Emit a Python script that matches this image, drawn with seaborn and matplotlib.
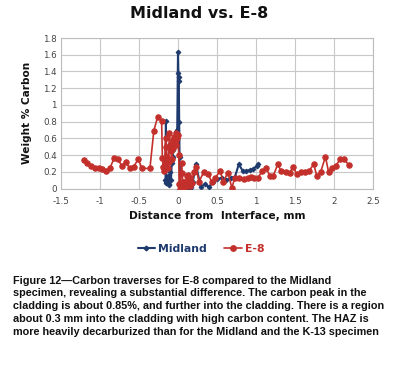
import matplotlib
matplotlib.use("Agg")
import matplotlib.pyplot as plt
import seaborn as sns
import pandas as pd
from matplotlib.lines import Line2D

# ---- data ----
midland_x = [-0.17, -0.16, -0.155, -0.15, -0.14, -0.13, -0.12, -0.11, -0.10, -0.09,
             -0.08, -0.07, -0.06, -0.05, -0.04, -0.03, -0.02, -0.01, 0.0, 0.005,
             0.008, 0.011, 0.015, 0.02, 0.03, 0.05, 0.07, 0.09, 0.11, 0.13,
             0.15, 0.17, 0.19, 0.23, 0.29, 0.34, 0.40, 0.45, 0.50, 0.56,
             0.62, 0.68, 0.73, 0.78, 0.83, 0.87, 0.92, 0.96, 1.01, 1.03]
midland_y = [0.10, 0.07, 0.81, 0.10, 0.06, 0.15, 0.04, 0.05, 0.20, 0.10,
             0.30, 0.38, 0.46, 0.52, 0.58, 0.62, 0.68, 0.70, 1.63, 1.38,
             1.33, 1.28, 0.80, 0.38, 0.05, 0.00, 0.03, 0.00, 0.02, 0.05,
             0.00, 0.02, 0.08, 0.29, 0.02, 0.05, 0.02, 0.08, 0.11, 0.13,
             0.10, 0.13, 0.14, 0.29, 0.21, 0.21, 0.22, 0.23, 0.27, 0.29]

e8_x = [-1.21, -1.17, -1.12, -1.06, -1.01, -0.97, -0.92, -0.87, -0.82, -0.77,
        -0.72, -0.67, -0.62, -0.57, -0.51, -0.46, -0.36, -0.31, -0.26, -0.21,
        -0.20, -0.19, -0.18, -0.17, -0.16, -0.15, -0.14, -0.13, -0.12, -0.11,
        -0.10, -0.09, -0.08, -0.07, -0.06, -0.05, -0.04, -0.03, -0.02, -0.01,
        0.0, 0.01, 0.015, 0.02, 0.03, 0.045, 0.055, 0.06, 0.07, 0.08,
        0.09, 0.10, 0.11, 0.12, 0.13, 0.14, 0.15, 0.16, 0.18, 0.20,
        0.23, 0.27, 0.33, 0.39, 0.43, 0.48, 0.54, 0.58, 0.64, 0.69,
        0.73, 0.78, 0.84, 0.90, 0.94, 0.98, 1.02, 1.08, 1.13, 1.18,
        1.22, 1.28, 1.32, 1.38, 1.43, 1.48, 1.52, 1.58, 1.63, 1.68,
        1.74, 1.78, 1.83, 1.89, 1.93, 1.98, 2.02, 2.08, 2.13, 2.19]
e8_y = [0.34, 0.31, 0.27, 0.24, 0.24, 0.23, 0.21, 0.25, 0.36, 0.35,
        0.27, 0.32, 0.24, 0.26, 0.35, 0.24, 0.24, 0.69, 0.86, 0.81,
        0.36, 0.26, 0.21, 0.30, 0.60, 0.50, 0.38, 0.25, 0.32, 0.66,
        0.52, 0.45, 0.35, 0.58, 0.48, 0.62, 0.55, 0.66, 0.52, 0.60,
        0.64, 0.40, 0.05, 0.00, 0.04, 0.30, 0.18, 0.08, 0.01, 0.08,
        0.02, 0.06, 0.15, 0.04, 0.16, 0.08, 0.03, 0.12, 0.06, 0.20,
        0.26, 0.08, 0.20, 0.17, 0.08, 0.13, 0.21, 0.08, 0.19, 0.01,
        0.13, 0.12, 0.11, 0.12, 0.14, 0.13, 0.12, 0.21, 0.24, 0.15,
        0.15, 0.29, 0.21, 0.20, 0.19, 0.26, 0.17, 0.20, 0.20, 0.21,
        0.29, 0.15, 0.20, 0.38, 0.20, 0.24, 0.27, 0.35, 0.35, 0.28]

x_ticks = [-1.5, -1, -0.5, 0, 0.5, 1, 1.5, 2, 2.5]
x_tick_labels = ["-1.5", "-1", "-0.5", "0", "0.5", "1", "1.5", "2", "2.5"]
y_ticks = [0, 0.2, 0.4, 0.6, 0.8, 1, 1.2, 1.4, 1.6, 1.8]
y_tick_labels = ["0", "0.2", "0.4", "0.6", "0.8", "1", "1.2", "1.4", "1.6", "1.8"]

caption = ("Figure 12\u2014Carbon traverses for E-8 compared to the Midland\n"
           "specimen, revealing a substantial difference. The carbon peak in the\n"
           "cladding is about 0.85%, and further into the cladding. There is a region\n"
           "about 0.3 mm into the cladding with high carbon content. The HAZ is\n"
           "more heavily decarburized than for the Midland and the K-13 specimen")

BLUE = "#1f3a6e"
RED = "#c3302b"

sns.set_style("white")
plt.rcParams['font.family'] = ['DejaVu Sans']

fig = plt.figure(figsize=(3.99, 3.71), dpi=100)
ax = fig.add_axes([61/399, 1 - 188.5/371, (373-61)/399, (188.5-38)/371])

df_m = pd.DataFrame({"x": midland_x, "y": midland_y})
df_e = pd.DataFrame({"x": e8_x, "y": e8_y})

sns.lineplot(data=df_m, x="x", y="y", sort=False, estimator=None, ax=ax,
             color=BLUE, lw=1.5, marker="D", markersize=2.4,
             markeredgecolor=BLUE, zorder=3)
sns.lineplot(data=df_e, x="x", y="y", sort=False, estimator=None, ax=ax,
             color=RED, lw=1.2, marker="o", markersize=3.9,
             markeredgecolor=RED, zorder=4)

ax.set_xlim(-1.5, 2.5)
ax.set_ylim(0, 1.8)
ax.set_xticks(x_ticks)
ax.set_xticklabels(x_tick_labels)
ax.set_yticks(y_ticks)
ax.set_yticklabels(y_tick_labels)
ax.tick_params(axis="both", labelsize=6.3, colors="#444444", length=3, pad=3,
               width=0.8)
ax.tick_params(axis="y", length=0)
ax.grid(True, color="#c8c8c8", lw=0.8)
for s in ax.spines.values():
    s.set_color("#bdbdbd")
    s.set_linewidth(0.8)

ax.set_xlabel("Distance from  Interface, mm", fontsize=7.7, fontweight="bold",
              labelpad=4, color="#111111")
ax.set_ylabel("Weight % Carbon", fontsize=7.6, fontweight="bold",
              labelpad=8, color="#111111")

fig.text(0.5, 1 - 13/371, "Midland vs. E-8", ha="center", va="center",
         fontsize=11.5, fontweight="bold", color="#111111")

handles = [Line2D([0], [0], color=BLUE, lw=1.5, marker="D", markersize=2.4),
           Line2D([0], [0], color=RED, lw=1.2, marker="o", markersize=3.9)]
fig.legend(handles, ["Midland", "E-8"], loc="center",
           bbox_to_anchor=(201/399, 1 - 249/371), ncol=2, frameon=False,
           prop={"size": 7.8, "weight": "bold"}, handlelength=1.6,
           handletextpad=0.3, columnspacing=1.6, labelcolor="#1f3a6e")
leg = fig.legends[0]
leg.get_texts()[1].set_color(RED)

fig.text(13/399, 1 - 275.5/371, caption, ha="left", va="top",
         fontsize=7.85, fontweight="bold", family=["Liberation Sans"],
         linespacing=1.36, color="#111111")

fig.savefig("out.png", dpi=100)
